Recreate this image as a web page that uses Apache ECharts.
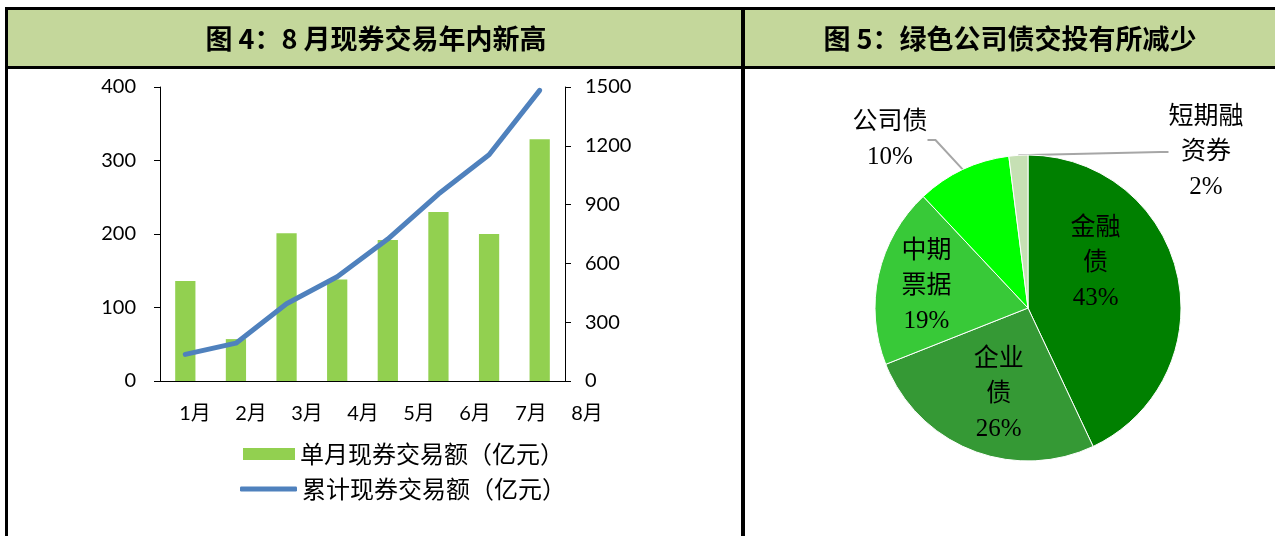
<!DOCTYPE html>
<html>
<head>
<meta charset="utf-8">
<script src="https://cdn.jsdelivr.net/npm/echarts@6/dist/echarts.min.js"></script>
<style>
  html, body { margin: 0; padding: 0; background: #fff; }
  #main { width: 1275px; height: 536px; }
</style>
</head>
<body>
<div id="main"></div>
<script>
// 图4 数据
var months      = ['1月', '2月', '3月', '4月', '5月', '6月', '7月', '8月'];
var monthly     = [136, 57, 201, 138, 192, 230, 200, 329];     // 单月现券交易额
var cumulative  = [136, 193, 394, 532, 724, 954, 1154, 1483];  // 累计现券交易额
var leftTicks   = { min: 0, max: 400, interval: 100 };
var rightTicks  = { min: 0, max: 1500, interval: 300 };

// 图5 数据
var pieNames    = ['金融债', '企业债', '中期票据', '公司债', '短期融资券'];
var pieLabels   = ['金融\n债', '企业\n债', '中期\n票据', '公司债', '短期融\n资券'];
var pieValues   = [43, 26, 19, 10, 2];
var pieColors   = ['#008000', '#359935', '#38c938', '#00ff00', '#c6e0b4'];

var cjk   = '"Noto Sans CJK SC", sans-serif';
var latin = 'Lato, "Noto Sans CJK SC", sans-serif';
var serif = '"Liberation Serif", "Noto Sans CJK SC", serif';

var chart = echarts.init(document.getElementById('main'));

var pieData = pieNames.map(function (n, i) {
    return { name: n, value: pieValues[i], itemStyle: { color: pieColors[i] } };
});

var option = {
    backgroundColor: '#fff',
    animation: false,
    graphic: [
        // 标题栏
        { type: 'rect', shape: { x: 8, y: 10, width: 1267, height: 56 }, style: { fill: '#c4d79b' } },
        { type: 'line', shape: { x1: 5, y1: 8.5, x2: 1275, y2: 8.5 }, style: { stroke: '#000', lineWidth: 3 } },
        { type: 'line', shape: { x1: 5, y1: 67.5, x2: 1275, y2: 67.5 }, style: { stroke: '#000', lineWidth: 3 } },
        { type: 'line', shape: { x1: 6.5, y1: 7, x2: 6.5, y2: 536 }, style: { stroke: '#000', lineWidth: 3 } },
        { type: 'line', shape: { x1: 743, y1: 7, x2: 743, y2: 536 }, style: { stroke: '#000', lineWidth: 4 } },
        { type: 'text', x: 376, y: 39, style: {
            text: '图 4：8 月现券交易年内新高', font: 'bold 27px ' + cjk, fill: '#000',
            align: 'center', verticalAlign: 'middle'
        } },
        { type: 'text', x: 1010, y: 39, style: {
            text: '图 5：绿色公司债交投有所减少', font: 'bold 27px ' + cjk, fill: '#000',
            align: 'center', verticalAlign: 'middle'
        } }
    ],
    legend: [
        {
            data: ['单月现券交易额（亿元）'],
            left: 243, top: 442, padding: 0,
            icon: 'rect', itemWidth: 52, itemHeight: 12,
            textStyle: { fontFamily: cjk, fontSize: 24, color: '#000' }
        },
        {
            data: ['累计现券交易额（亿元）'],
            left: 240, top: 477, padding: 0,
            icon: 'roundRect', itemWidth: 57, itemHeight: 5,
            itemStyle: { color: '#4f81bd' },
            textStyle: { fontFamily: cjk, fontSize: 24, color: '#000' }
        }
    ],
    grid: [
        { left: 160, right: 710, top: 87, bottom: 155 },
        // 月份标签所用的坐标（原图标签较柱子间距略宽）
        { left: 167, right: 660, top: 87, bottom: 155 }
    ],
    xAxis: [
        {
            type: 'category', data: months, gridIndex: 0,
            axisLine: { lineStyle: { color: '#000', width: 1 } },
            axisTick: { show: false },
            axisLabel: { show: false }
        },
        {
            type: 'category', data: months, gridIndex: 1,
            axisLine: { show: false },
            axisTick: { show: false },
            axisLabel: { margin: 23, fontFamily: latin, fontSize: 20, color: '#000' }
        }
    ],
    yAxis: [
        {
            type: 'value', gridIndex: 0, min: leftTicks.min, max: leftTicks.max, interval: leftTicks.interval,
            axisLine: { show: true, lineStyle: { color: '#000' } },
            axisTick: { show: true, length: 6, lineStyle: { color: '#000' } },
            splitLine: { show: false },
            axisLabel: { margin: 24, fontFamily: latin, fontSize: 20, color: '#000' }
        },
        {
            type: 'value', gridIndex: 0, position: 'right', min: rightTicks.min, max: rightTicks.max, interval: rightTicks.interval,
            axisLine: { show: true, lineStyle: { color: '#000' } },
            axisTick: { show: true, length: 6, lineStyle: { color: '#000' } },
            splitLine: { show: false },
            axisLabel: { margin: 20, fontFamily: latin, fontSize: 20, color: '#000',
                formatter: function (v) { return String(v); } }
        },
        { type: 'value', gridIndex: 1, show: false }
    ],
    series: [
        {
            name: '单月现券交易额（亿元）', type: 'bar',
            xAxisIndex: 0, yAxisIndex: 0,
            data: monthly, barWidth: '40%',
            itemStyle: { color: '#92d050' }
        },
        {
            name: '累计现券交易额（亿元）', type: 'line',
            xAxisIndex: 0, yAxisIndex: 1,
            data: cumulative, symbol: 'none',
            lineStyle: { color: '#4f81bd', width: 5, cap: 'round', join: 'round' },
            itemStyle: { color: '#4f81bd' }
        },
        {
            type: 'pie',
            center: [1028, 308], radius: 153,
            startAngle: 90, clockwise: true,
            data: pieData,
            itemStyle: { borderColor: '#fff', borderWidth: 1 },
            label: {
                show: true,
                formatter: function (p) { return pieLabels[p.dataIndex] + '\n' + p.value + '%'; },
                fontFamily: serif, fontSize: 25, lineHeight: 35, color: '#000',
                align: 'center'
            },
            labelLine: { show: true, length: 12, length2: 8, lineStyle: { color: '#a6a6a6', width: 2 } },
            labelLayout: function (p) {
                var i = p.dataIndex;
                if (i === 0) return { dx: -10, dy: -27 };
                if (i === 1) return { dy: 13 };
                if (i === 2) return { dx: -24, dy: -4 };
                if (i === 3) return { x: 890, y: 140, align: 'center', verticalAlign: 'middle' };
                return { x: 1206, y: 152, align: 'center', verticalAlign: 'middle' };
            }
        }
    ]
};

// 内部标签不显示引导线
option.series[2].data.forEach(function (d, i) {
    if (i < 3) {
        d.label = { position: 'inside' };
        d.labelLine = { show: false };
    } else {
        d.label = { position: 'outside' };
    }
});

chart.setOption(option);
</script>
</body>
</html>
